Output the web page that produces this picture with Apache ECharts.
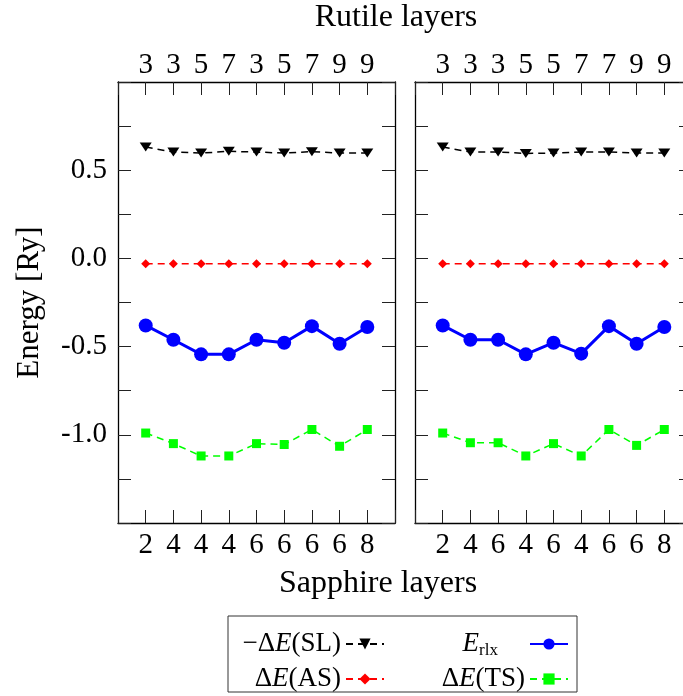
<!DOCTYPE html>
<html>
<head>
<meta charset="utf-8">
<script src="https://cdn.jsdelivr.net/npm/echarts@6/dist/echarts.min.js"></script>
<style>
html,body{margin:0;padding:0;background:#fff;overflow:hidden;}
#c{width:700px;height:696px;}
</style>
</head>
<body>
<div id="c"></div>
<script>
// ---- data ----
var sapphireLeft = ['2','4','4','4','6','6','6','6','8'];
var rutileLeft   = ['3','3','5','7','3','5','7','9','9'];
var sapphireRight = ['2','4','6','4','6','4','6','6','8'];
var rutileRight   = ['3','3','3','5','5','7','7','9','9'];

var slLeft   = [0.631, 0.603, 0.597, 0.607, 0.603, 0.597, 0.605, 0.597, 0.597];
var asLeft   = [-0.03, -0.03, -0.03, -0.03, -0.03, -0.03, -0.03, -0.03, -0.03];
var erlxLeft = [-0.380, -0.461, -0.544, -0.544, -0.461, -0.478, -0.384, -0.484, -0.389];
var tsLeft   = [-0.99, -1.05, -1.12, -1.12, -1.05, -1.055, -0.97, -1.065, -0.97];

var slRight   = [0.631, 0.603, 0.603, 0.595, 0.597, 0.603, 0.603, 0.597, 0.597];
var asRight   = [-0.03, -0.03, -0.03, -0.03, -0.03, -0.03, -0.03, -0.03, -0.03];
var erlxRight = [-0.380, -0.461, -0.461, -0.544, -0.478, -0.540, -0.384, -0.484, -0.389];
var tsRight   = [-0.99, -1.045, -1.045, -1.12, -1.05, -1.12, -0.97, -1.06, -0.97];

var yLabelValues = [-1.0, -0.5, 0.0, 0.5];

// ---- helpers ----
var FONT = 'Liberation Serif';
var TICKFS = 29;
function pairs(arr){ return arr.map(function(v,i){ return [i+1, v]; }); }
function catFmt(labels){ return function(v){ var i = Math.round(v)-1; return (i>=0 && i<labels.length) ? labels[i] : ''; }; }

function xAxis(gi, pos, labels){
  return {
    type:'value', gridIndex:gi, position:pos, min:0, max:10, interval:1,
    axisLine:{show:true, onZero:false, lineStyle:{color:'#000', width:1.3}},
    axisTick:{show:true, inside:true, length:13, lineStyle:{color:'#222', width:1}},
    axisLabel:{show:true, formatter:catFmt(labels), margin:(pos==='top'?2:8), color:'#000', fontFamily:FONT, fontSize:TICKFS, showMinLabel:true, showMaxLabel:true, hideOverlap:false},
    splitLine:{show:false}
  };
}
function yAxis(gi, pos, showLabels){
  var a = {
    type:'value', gridIndex:gi, position:pos, min:-1.5, max:1.0, interval:0.25,
    axisLine:{show:true, onZero:false, lineStyle:{color:'#000', width:1.3}},
    axisTick:{show:true, inside:true, length:13, lineStyle:{color:'#222', width:1}},
    axisLabel:{show:showLabels, margin:11, color:'#000', fontFamily:FONT, fontSize:TICKFS,
      formatter:function(v){
        for (var k=0;k<yLabelValues.length;k++){ if (Math.abs(v-yLabelValues[k])<1e-6) return yLabelValues[k].toFixed(1); }
        return '';
      }},
    splitLine:{show:false}
  };
  if (showLabels){
    a.name = 'Energy [Ry]';
    a.nameLocation = 'middle';
    a.nameGap = 73;
    a.nameTextStyle = {color:'#000', fontFamily:FONT, fontSize:31};
  }
  return a;
}

function seriesSet(xi, yi, sl, as, er, ts){
  return [
    {name:'SL', type:'line', xAxisIndex:xi, yAxisIndex:yi, data:pairs(sl),
     symbol:'triangle', symbolRotate:180, symbolSize:[12,9],
     itemStyle:{color:'#000'}, lineStyle:{color:'#000', width:1.5, type:[7,5]}, z:3},
    {name:'AS', type:'line', xAxisIndex:xi, yAxisIndex:yi, data:pairs(as),
     symbol:'diamond', symbolSize:[9,9],
     itemStyle:{color:'#ff0000'}, lineStyle:{color:'#ff0000', width:1.5, type:[7,5]}, z:3},
    {name:'Erlx', type:'line', xAxisIndex:xi, yAxisIndex:yi, data:pairs(er),
     symbol:'circle', symbolSize:14,
     itemStyle:{color:'#0000ff'}, lineStyle:{color:'#0000ff', width:3}, z:4},
    {name:'TS', type:'line', xAxisIndex:xi, yAxisIndex:yi, data:pairs(ts),
     symbol:'rect', symbolSize:9,
     itemStyle:{color:'#00ff00'}, lineStyle:{color:'#00ff00', width:1.5, type:[7,5]}, z:3}
  ];
}

var LFS = 27;
var rich = {
  n:{fontFamily:FONT, fontSize:LFS, color:'#000', lineHeight:30},
  i:{fontFamily:FONT, fontSize:LFS, fontStyle:'italic', color:'#000', lineHeight:30},
  s:{fontFamily:FONT, fontSize:17, color:'#000', lineHeight:17, verticalAlign:'bottom', padding:[0,27,0,0]}
};
function legendFmt(name){
  if (name==='SL') return '{n|\u2212\u0394}{i|E}{n|(SL)}';
  if (name==='AS') return '{n|\u0394}{i|E}{n|(AS)}';
  if (name==='Erlx') return '{i|E}{s|rlx}';
  if (name==='TS') return '{n|\u0394}{i|E}{n|(TS)}';
  return name;
}
function legend(name, right, top){
  return {
    data:[name], orient:'vertical', align:'right', right:right, top:top,
    itemWidth:38, itemHeight:14, itemGap:0, padding:0,
    selectedMode:false,
    formatter:legendFmt,
    textStyle:{fontFamily:FONT, fontSize:LFS, color:'#000', lineHeight:30, rich:rich}
  };
}

// container is 700px wide (window shows 683px) so the right panel runs past the window edge as in the reference
var RIGHT_OFF = 700 - 683;
var chart = echarts.init(document.getElementById('c'), null, {renderer:'canvas'});
chart.setOption({
  animation:false,
  backgroundColor:'#fff',
  grid:[
    {left:118, top:82, width:277, height:441, containLabel:false, outerBoundsMode:'none'},
    {left:415, top:82, width:277, height:441, containLabel:false, outerBoundsMode:'none'}
  ],
  xAxis:[
    xAxis(0,'bottom',sapphireLeft),
    xAxis(0,'top',rutileLeft),
    xAxis(1,'bottom',sapphireRight),
    xAxis(1,'top',rutileRight)
  ],
  yAxis:[
    yAxis(0,'left',true),
    yAxis(0,'right',false),
    yAxis(1,'left',false),
    yAxis(1,'right',false)
  ],
  legend:[
    legend('SL', 298 + RIGHT_OFF, 629),
    legend('AS', 298 + RIGHT_OFF, 664),
    legend('Erlx', 114 + RIGHT_OFF, 629),
    legend('TS', 114 + RIGHT_OFF, 664)
  ],
  graphic:[
    {type:'text', x:396, y:18, style:{text:'Rutile layers', font:'32px "Liberation Serif"', fill:'#000', textAlign:'center', textVerticalAlign:'middle'}},
    {type:'text', x:378, y:584, style:{text:'Sapphire layers', font:'32px "Liberation Serif"', fill:'#000', textAlign:'center', textVerticalAlign:'middle'}},
    {type:'rect', shape:{x:228, y:616, width:349, height:76}, style:{fill:'none', stroke:'#333', lineWidth:1}, z:-1}
  ],
  series:[].concat(
    seriesSet(0,0,slLeft,asLeft,erlxLeft,tsLeft),
    seriesSet(2,2,slRight,asRight,erlxRight,tsRight)
  )
});
</script>
</body>
</html>
